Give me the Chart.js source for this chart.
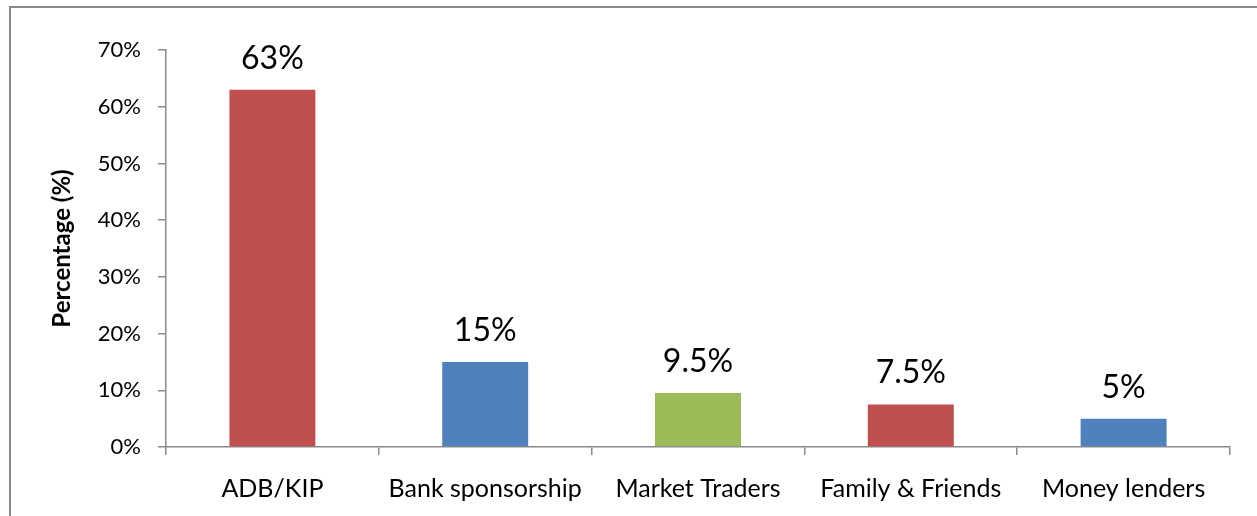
<!DOCTYPE html>
<html>
<head>
<meta charset="utf-8">
<script src="https://cdn.jsdelivr.net/npm/chart.js@4.4.0/dist/chart.umd.min.js"></script>
<style>
  html, body { margin: 0; padding: 0; background: #ffffff; }
  #wrap { position: relative; width: 1257px; height: 516px; }
</style>
</head>
<body>
<div id="wrap"><canvas id="c" width="1257" height="516"></canvas></div>
<script>
const categories = ["ADB/KIP", "Bank sponsorship", "Market Traders", "Family & Friends", "Money lenders"];
const values = [63, 15, 9.5, 7.5, 5];
const barColors = ["#C0504D", "#4F81BD", "#9BBB59", "#C0504D", "#4F81BD"];
const yTicks = [0, 10, 20, 30, 40, 50, 60, 70];
const yTitle = "Percentage (%)";

const FONT = "Lato";

const frame = {
  id: 'frame',
  beforeDraw(chart) {
    const ctx = chart.ctx;
    ctx.save();
    ctx.fillStyle = '#ffffff';
    ctx.fillRect(0, 0, chart.width, chart.height);
    ctx.strokeStyle = '#8a8a8a';
    ctx.lineWidth = 2;
    ctx.beginPath();
    ctx.moveTo(10, chart.height + 5);
    ctx.lineTo(10, 7);
    ctx.lineTo(chart.width + 5, 7);
    ctx.stroke();
    ctx.restore();
  }
};

const valueLabels = {
  id: 'valueLabels',
  afterDatasetsDraw(chart) {
    const ctx = chart.ctx;
    const meta = chart.getDatasetMeta(0);
    ctx.save();
    ctx.font = `32px ${FONT}`;
    ctx.fillStyle = '#000000';
    ctx.textAlign = 'center';
    ctx.textBaseline = 'alphabetic';
    meta.data.forEach((bar, i) => {
      ctx.fillText(values[i] + '%', bar.x, bar.y - 21);
    });
    ctx.restore();
  }
};

new Chart(document.getElementById('c'), {
  type: 'bar',
  data: {
    labels: categories,
    datasets: [{
      data: values,
      backgroundColor: barColors,
      borderWidth: 0,
      barPercentage: 0.404,
      categoryPercentage: 1.0
    }]
  },
  options: {
    responsive: false,
    animation: false,
    layout: { padding: { top: 50, right: 27, left: 0, bottom: 0 } },
    plugins: { legend: { display: false }, tooltip: { enabled: false } },
    scales: {
      x: {
        grid: {
          display: true,
          drawOnChartArea: false,
          drawTicks: true,
          tickLength: 8,
          color: '#8a8a8a',
          lineWidth: 1.5,
          offset: true
        },
        border: { display: true, color: '#8a8a8a', width: 1.5 },
        ticks: {
          color: '#000000',
          font: { family: FONT, size: 25 },
          padding: 19,
          maxRotation: 0,
          autoSkip: false
        },
        afterFit(scale) { scale.height = 69; }
      },
      y: {
        min: 0,
        max: 70,
        afterBuildTicks(scale) { scale.ticks = yTicks.map(v => ({ value: v })); },
        grid: {
          display: true,
          drawOnChartArea: false,
          drawTicks: true,
          tickLength: 8,
          color: '#8a8a8a',
          lineWidth: 1.5
        },
        border: { display: true, color: '#8a8a8a', width: 1.5 },
        ticks: {
          color: '#000000',
          font: { family: FONT, size: 22 },
          padding: 17,
          callback: v => v + '%'
        },
        title: {
          display: true,
          text: yTitle,
          color: '#000000',
          font: { family: FONT, size: 24, weight: 'bold' },
          padding: { top: 48, bottom: 0 }
        },
        afterFit(scale) { scale.width = 166; }
      }
    }
  },
  plugins: [frame, valueLabels]
});
</script>
</body>
</html>
